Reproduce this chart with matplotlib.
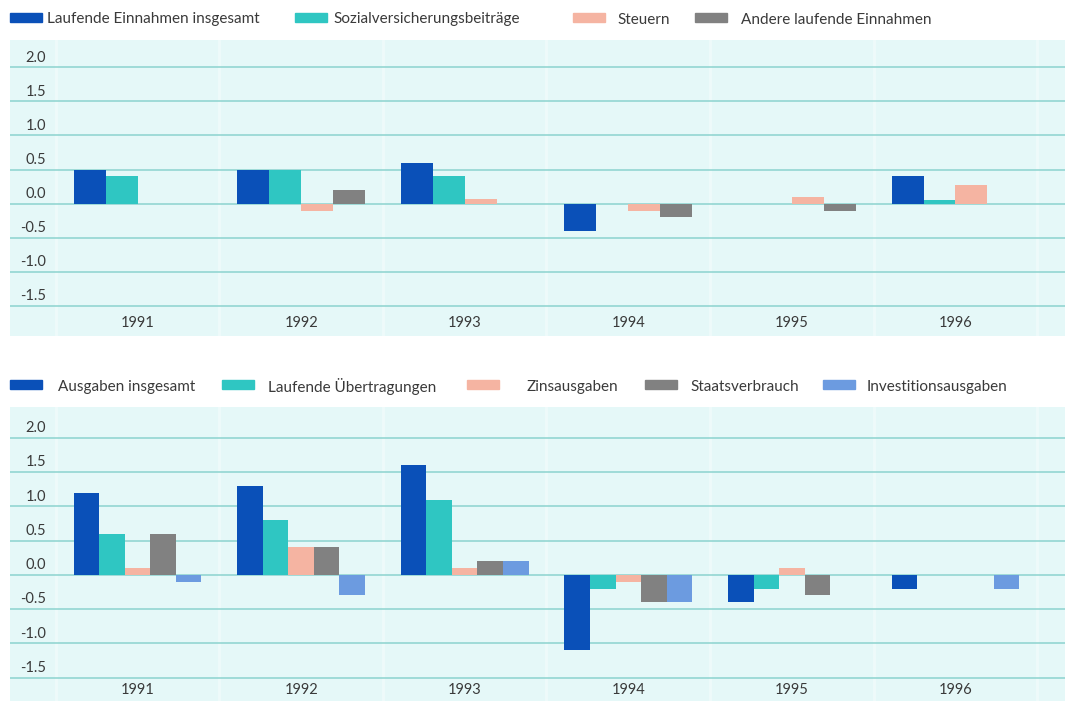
import matplotlib
matplotlib.use("Agg")
import matplotlib.pyplot as plt
from matplotlib.patches import Rectangle
import numpy as np

plt.rcParams['font.family'] = ['Lato', 'DejaVu Sans']

years = ['1991', '1992', '1993', '1994', '1995', '1996']

# Einnahmen (oberes Diagramm)
einnahmen_labels = ['Laufende Einnahmen insgesamt', 'Sozialversicherungsbeiträge',
                    'Steuern', 'Andere laufende Einnahmen']
einnahmen_insgesamt = [0.5, 0.5, 0.6, -0.4, 0.0, 0.4]
sozialversicherung = [0.4, 0.5, 0.4, 0.0, 0.0, 0.06]
steuern = [0.0, -0.1, 0.07, -0.1, 0.1, 0.28]
andere_einnahmen = [0.0, 0.2, 0.0, -0.2, -0.1, 0.0]

# Ausgaben (unteres Diagramm)
ausgaben_labels = ['Ausgaben insgesamt', 'Laufende Übertragungen', 'Zinsausgaben',
                   'Staatsverbrauch', 'Investitionsausgaben']
ausgaben_insgesamt = [1.2, 1.3, 1.6, -1.1, -0.4, -0.2]
uebertragungen = [0.6, 0.8, 1.1, -0.2, -0.2, 0.0]
zinsausgaben = [0.1, 0.4, 0.1, -0.1, 0.1, 0.0]
staatsverbrauch = [0.6, 0.4, 0.2, -0.4, -0.3, 0.0]
investitionen = [-0.1, -0.3, 0.2, -0.4, 0.0, -0.2]

yticks = [2.0, 1.5, 1.0, 0.5, 0.0, -0.5, -1.0, -1.5]

c_dark = '#0a50b8'
c_teal = '#2fc6c2'
c_pink = '#f5b4a2'
c_gray = '#818181'
c_lblue = '#6c9be0'
bg = '#e5f8f8'
grid_c = '#93d6d2'
txt_c = '#3a3a3a'

W, H = 1069, 701
fig = plt.figure(figsize=(W / 100, H / 100), dpi=100)
fig.patch.set_facecolor('white')


def px_axes(x0, y0, x1, y1):
    return fig.add_axes([x0 / W, 1 - y1 / H, (x1 - x0) / W, (y1 - y0) / H])


def legend_row(y, items):
    for (px, tx, label, color) in items:
        fig.patches.append(Rectangle((px / W, 1 - (y + 4) / H), 32 / W, 9 / H,
                                     transform=fig.transFigure, color=color))
        fig.text(tx / W, 1 - y / H, label, fontsize=11, color=txt_c,
                 va='center_baseline', ha='left')


def panel(ax, series, colors, ylim, label_y):
    ax.set_facecolor(bg)
    n = len(series)
    grp = 0.78
    bw = grp / n
    x = np.arange(len(years))
    for k, (vals, col) in enumerate(zip(series, colors)):
        ax.bar(x - grp / 2 + bw * (k + 0.5), vals, width=bw, color=col, zorder=3)
    for t in yticks:
        ax.axhline(t, color=grid_c, lw=1.2, zorder=2)
        ax.text(-0.56, t + 0.04, f'{t:.1f}', ha='right', va='bottom', fontsize=10.5, color=txt_c)
    for v in np.arange(-0.5, len(years), 1.0):
        ax.axvline(v, color='white', lw=2, alpha=0.35, zorder=1)
    for i, yr in enumerate(years):
        ax.text(i, label_y, yr, ha='center', va='center', fontsize=10.5, color=txt_c)
    ax.set_xlim(-0.78, 5.67)
    ax.set_ylim(*ylim)
    ax.set_xticks([])
    ax.set_yticks([])
    for s in ax.spines.values():
        s.set_visible(False)


ax1 = px_axes(10, 40, 1065, 336)
panel(ax1, [einnahmen_insgesamt, sozialversicherung, steuern, andere_einnahmen],
      [c_dark, c_teal, c_pink, c_gray], (-1.94, 2.40), -1.75)

ax2 = px_axes(10, 407, 1065, 701)
panel(ax2, [ausgaben_insgesamt, uebertragungen, zinsausgaben, staatsverbrauch, investitionen],
      [c_dark, c_teal, c_pink, c_gray, c_lblue], (-1.84, 2.45), -1.68)

legend_row(18, [(10, 47, einnahmen_labels[0], c_dark),
                (295, 333, einnahmen_labels[1], c_teal),
                (573, 617, einnahmen_labels[2], c_pink),
                (695, 741, einnahmen_labels[3], c_gray)])

legend_row(385, [(10, 58, ausgaben_labels[0], c_dark),
                 (222, 268, ausgaben_labels[1], c_teal),
                 (467, 527, ausgaben_labels[2], c_pink),
                 (645, 690, ausgaben_labels[3], c_gray),
                 (823, 867, ausgaben_labels[4], c_lblue)])

fig.savefig('out.png', dpi=100)
